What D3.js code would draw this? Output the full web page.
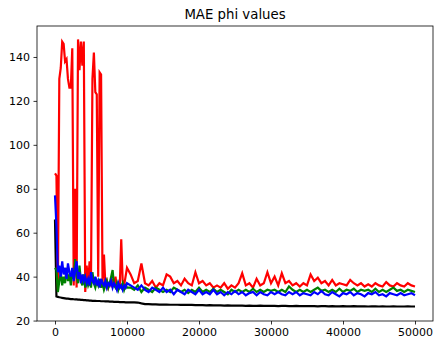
<!DOCTYPE html>
<html>
<head>
<meta charset="utf-8">
<script src="https://d3js.org/d3.v7.min.js"></script>
<style>
  body { margin: 0; background: #fff; }
  text { font-family: "DejaVu Sans", sans-serif; }
</style>
</head>
<body>
<div id="chart"></div>
<script>
// sample steps: fine steps first, coarser later
var stepsEarly = d3.range(0, 10001, 200);
var stepsLate = d3.range(10500, 50001, 500);
var steps = stepsEarly.concat(stepsLate);

var xTicks = [0, 10000, 20000, 30000, 40000, 50000];
var yTicks = [20, 40, 60, 80, 100, 120, 140];

var redVals = [87,86,34,130,135,147,146,138,139,130,126,126,144,36,80,35,148,134,147,136,
  147,33,45,36,47,38,130,142,124,123,40,133,132,37,50,36,38,35,37,36,
  38,36,40,35,37,36,57,38,36,40,44,
  41,37,38,46,37,36,38,35,37,36,
  41,40,37,38,36,39,37,36,42,37,
  38,36,37,35,36,35,37,34.5,36,35,
  37,41.5,36,37,35,39,36,37,42,37,
  40,36,41.5,37,38,36,37,35.5,37,36,
  41,38,39.5,37,38,36,38.5,36,37,36.5,
  36,38.5,37,36,37,35.5,36.5,35.5,37,36,
  35.5,37.5,36,35.5,37,36,35.5,37,36,35.5];

var greenVals = [44,43,33,38,42,36,40,37,44,38,41,36,43,39,48,40,37,45,38,36,
  41,35,39,36,38,35,42,37,35,38,36,39,35,37,34,36,38,35,37,40,
  43,36,35,37,34,36,35,37,34,36,35,
  35,34,36,33,35,34,33,35,34,33,
  34,33,35,34,33,34,32.5,34,33,35,
  33,34,33,34.5,33,34,33,32,34,33,
  34,33,34,33,34.5,33,34,33,34,33.5,
  34,33,34,33,35.5,34,33,34,33,34,
  33,34,35,33.5,34,33,34,33,34.5,33,
  34,33.5,34.5,33,34,33.5,34,33,34.5,33,
  34,33,34,35,33.5,34,33,34,33.5,33];

var blueVals = [77,63,42,45,40,47,41,44,39,46,42,40,44,38,43,47,39,42,37,41,
  38,40,37,39,36,42,38,37,40,36,38,35,39,37,36,38,35,37,36,38,
  35,37,36,34,37,35,36,34,36,35,37,
  36,35,34,36,34,33,35,34,33,35,
  33,34,32,34,33,32,34,33,32,34,
  32,33,32,34,32,33,31.5,33,32,33.5,
  32,33,31.5,32.5,33,31.5,33,32,31.5,33,
  32,33,32,31.5,33,32,33,31.5,32.5,32,
  31.5,33,32,33.5,32,31.5,33,32,31,32.5,
  32,33,31.5,32.5,32,31,32.5,32,33,31.5,
  32,31,32.5,32,31.5,32.5,31.5,32,32.5,31.5];

var blackVals = [66,31,30.8,30.6,30.5,30.3,30.2,30.1,30.0,30.0,29.9,29.8,29.8,29.7,29.6,29.6,29.5,29.5,29.4,29.4,
  29.3,29.3,29.2,29.2,29.1,29.1,29.0,29.0,29.0,28.9,28.9,28.9,28.8,28.8,28.8,28.7,28.7,28.7,28.6,28.6,
  28.6,28.5,28.5,28.5,28.5,28.4,28.4,28.4,28.4,28.3,28.3,
  28.3,28.3,28.2,27.8,27.5,27.5,27.4,27.4,27.3,27.3,
  27.3,27.2,27.2,27.2,27.1,27.1,27.1,27.1,27.0,27.0,
  27.0,26.9,27.0,26.9,26.9,26.9,26.8,26.9,26.8,26.8,
  26.8,26.8,26.7,26.8,26.7,26.7,26.8,26.7,26.7,26.7,
  26.7,26.6,26.7,26.7,26.6,26.6,26.7,26.6,26.6,26.6,
  26.6,26.6,26.5,26.6,26.6,26.5,26.6,26.5,26.5,26.6,
  26.5,26.5,26.6,26.5,26.5,26.5,26.4,26.5,26.5,26.4,
  26.5,26.4,26.4,26.5,26.4,26.4,26.4,26.5,26.4,26.4];

var W = 444, H = 348;
var margin = { top: 26, left: 37, right: 11, bottom: 27 },
    width = W - margin.left - margin.right,
    height = H - margin.top - margin.bottom;

var svg = d3.select("#chart")
  .append("svg")
  .attr("width", W)
  .attr("height", H)
  .append("g")
  .attr("transform", "translate(" + margin.left + "," + margin.top + ")");

var x = d3.scaleLinear().domain([-2500, 52500]).range([0, width]);
var y = d3.scaleLinear().domain([19.8, 154.1]).range([height, 0]);

// title
svg.append("text")
  .attr("x", width / 2)
  .attr("y", -7)
  .attr("text-anchor", "middle")
  .style("font-size", "13.3px")
  .text("MAE phi values");

var line = d3.line()
  .x(function(d) { return x(d[0]); })
  .y(function(d) { return y(d[1]); });

var series = [
  { vals: blackVals, color: "#000000" },
  { vals: redVals, color: "#ff0000" },
  { vals: greenVals, color: "#008000" },
  { vals: blueVals, color: "#0000ff" }
];

svg.append("clipPath").attr("id", "clip")
  .append("rect").attr("width", width).attr("height", height);

series.forEach(function(s) {
  var pts = steps.map(function(st, i) { return [st, s.vals[i]]; });
  svg.append("path")
    .datum(pts)
    .attr("clip-path", "url(#clip)")
    .attr("fill", "none")
    .attr("stroke", s.color)
    .attr("stroke-width", 2.2)
    .attr("stroke-linejoin", "miter")
    .attr("d", line);
});

// axes
var xAxis = svg.append("g")
  .attr("transform", "translate(0," + height + ")")
  .call(d3.axisBottom(x).tickValues(xTicks).tickFormat(d3.format("d"))
    .tickSize(3.5).tickPadding(3.5).tickSizeOuter(0));

var yAxis = svg.append("g")
  .call(d3.axisLeft(y).tickValues(yTicks).tickFormat(d3.format("d"))
    .tickSize(3.5).tickPadding(3.5).tickSizeOuter(0));

[xAxis, yAxis].forEach(function(a) {
  a.select(".domain").remove();
  a.selectAll("text").style("font-size", "11px").attr("fill", "#000");
  a.selectAll("line").attr("stroke", "#000").attr("stroke-width", 0.8);
});

// spines
svg.append("rect")
  .attr("width", width)
  .attr("height", height)
  .attr("fill", "none")
  .attr("stroke", "#000")
  .attr("stroke-width", 0.8);
</script>
</body>
</html>
